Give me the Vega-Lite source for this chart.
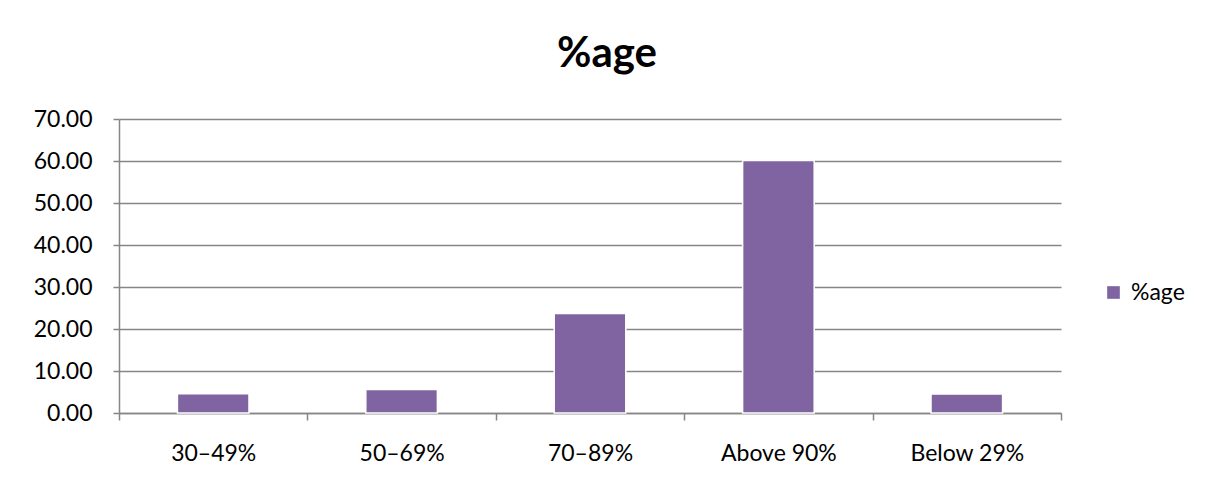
{
  "$schema": "https://vega.github.io/schema/vega-lite/v6.json",
  "width": 942,
  "height": 294,
  "autosize": {"type": "none"},
  "padding": {"left": 119, "top": 119, "right": 145, "bottom": 86},
  "background": "white",
  "title": {
    "text": "%age",
    "font": "Lato",
    "fontSize": 42,
    "fontWeight": "bold",
    "color": "#000000",
    "anchor": "middle",
    "dx": 17,
    "offset": 32
  },
  "data": {
    "values": [
      {"category": "30–49%", "value": 4.6, "series": "%age"},
      {"category": "50–69%", "value": 5.6, "series": "%age"},
      {"category": "70–89%", "value": 23.7, "series": "%age"},
      {"category": "Above 90%", "value": 60.1, "series": "%age"},
      {"category": "Below 29%", "value": 4.5, "series": "%age"}
    ]
  },
  "mark": {"type": "bar", "width": {"band": 0.38}, "stroke": "white", "strokeWidth": 1.5},
  "encoding": {
    "x": {
      "field": "category",
      "type": "nominal",
      "sort": null,
      "scale": {"paddingInner": 0, "paddingOuter": 0},
      "axis": {
        "title": null,
        "labelAngle": 0,
        "tickBand": "extent",
        "tickSize": 7,
        "tickColor": "#868686",
        "tickWidth": 1.5,
        "domainColor": "#868686",
        "domainWidth": 1.5,
        "labelFont": "Lato",
        "labelFontSize": 23,
        "labelColor": "#000000",
        "labelPadding": 22,
        "grid": false
      }
    },
    "y": {
      "field": "value",
      "type": "quantitative",
      "scale": {"domain": [0, 70], "nice": false},
      "axis": {
        "title": null,
        "values": [0, 10, 20, 30, 40, 50, 60, 70],
        "format": ".2f",
        "tickSize": 6,
        "tickColor": "#868686",
        "tickWidth": 1.5,
        "domainColor": "#868686",
        "domainWidth": 1.5,
        "gridColor": "#868686",
        "gridWidth": 1.5,
        "labelFont": "Lato",
        "labelFontSize": 23,
        "labelColor": "#000000",
        "labelPadding": 21
      }
    },
    "color": {
      "field": "series",
      "type": "nominal",
      "scale": {"range": ["#8064A2"]},
      "legend": {
        "title": null,
        "orient": "none",
        "legendX": 983,
        "legendY": 162,
        "symbolType": "square",
        "symbolSize": 160,
        "symbolStrokeWidth": 0,
        "labelFont": "Lato",
        "labelFontSize": 23,
        "labelColor": "#000000",
        "labelOffset": 6
      }
    }
  },
  "config": {
    "view": {"stroke": null}
  }
}
